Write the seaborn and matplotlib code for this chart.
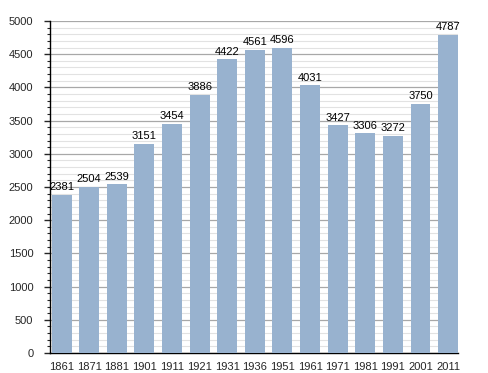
import matplotlib
matplotlib.use("Agg")
import matplotlib.pyplot as plt
import seaborn as sns
import pandas as pd
from matplotlib.ticker import MultipleLocator

years = ["1861", "1871", "1881", "1901", "1911", "1921", "1931", "1936", "1951",
         "1961", "1971", "1981", "1991", "2001", "2011"]
population = [2381, 2504, 2539, 3151, 3454, 3886, 4422, 4561, 4596,
              4031, 3427, 3306, 3272, 3750, 4787]

df = pd.DataFrame({"year": years, "pop": population})

sns.set_style("white")
plt.rcParams['font.family'] = ['Liberation Sans', 'DejaVu Sans']

fig = plt.figure(figsize=(4.88, 3.73), dpi=100)
ax = fig.add_axes([50/488, 20/373, 408/488, 332/373])

sns.barplot(data=df, x="year", y="pop", color="#98b2cf", saturation=1,
            width=0.72, ax=ax, zorder=3, linewidth=0, edgecolor="none")

ax.set_ylim(0, 5000)
ax.set_xlim(-0.42, 14.36)
ax.yaxis.set_major_locator(MultipleLocator(500))
ax.yaxis.set_minor_locator(MultipleLocator(100))
ax.grid(axis="y", which="major", color="#a8a8a8", linewidth=0.9, zorder=0)
ax.grid(axis="y", which="minor", color="#e2e2e2", linewidth=0.8, zorder=0)
ax.set_axisbelow(True)

for s in ["top", "right"]:
    ax.spines[s].set_visible(False)
for s in ["left", "bottom"]:
    ax.spines[s].set_color("black")
    ax.spines[s].set_linewidth(1.0)

ax.tick_params(axis="y", which="major", left=True, length=4, width=1, labelsize=8, pad=8)
ax.tick_params(axis="y", which="minor", left=True, length=2, width=0.8)
ax.tick_params(axis="x", which="major", bottom=False, labelsize=8, pad=3)
ax.set_xlabel("")
ax.set_ylabel("")

for i, v in enumerate(population):
    ax.text(i, v + 40, str(v), ha="center", va="bottom", fontsize=8, color="black")

fig.savefig("out.png", dpi=100)
